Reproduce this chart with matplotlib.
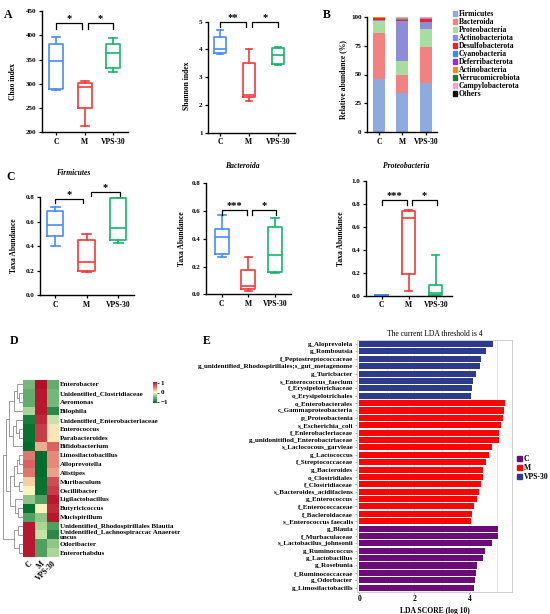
import numpy as np
import matplotlib
matplotlib.use("Agg")
import matplotlib.pyplot as plt
import matplotlib.patches as mpatches
from matplotlib.colors import LinearSegmentedColormap, Normalize

plt.rcParams["font.family"] = ["Liberation Serif", "DejaVu Serif"]
plt.rcParams["font.weight"] = "bold"
plt.rcParams["axes.labelweight"] = "bold"

W, H = 550, 614

# ---------------- data ----------------
groups = ["C", "M", "VPS-30"]
group_colors = ["#4A8CF5", "#F43A3A", "#16B46C"]

# box stats per group: min, q1, median, q3, max
chao_stats = [[287, 290, 346, 383, 397], [212, 250, 293, 302, 305], [324, 332, 363, 383, 394]]
shannon_stats = [[3.82, 3.86, 4.0, 4.44, 4.70], [2.16, 2.27, 2.36, 3.50, 4.02], [3.44, 3.48, 3.80, 4.05, 4.10]]
firm_stats = [[0.40, 0.48, 0.57, 0.69, 0.72], [0.19, 0.197, 0.27, 0.45, 0.50], [0.425, 0.45, 0.545, 0.795, 0.80]]
bact_stats = [[0.27, 0.29, 0.41, 0.47, 0.57], [0.024, 0.036, 0.06, 0.175, 0.267], [0.15, 0.163, 0.283, 0.487, 0.55]]
proteo_stats = [[0.0, 0.002, 0.005, 0.008, 0.01], [0.044, 0.19, 0.675, 0.738, 0.747], [0.005, 0.01, 0.02, 0.093, 0.355]]

phyla = ["Firmicutes", "Bacteroida", "Proteobacteria", "Actinobacteriota", "Desulfobacterota",
         "Cyanobacteria", "Deferribacterota", "Actinobacteria", "Verrucomicrobiota",
         "Campylobacterota", "Others"]
phyla_colors = ["#8FAADC", "#F28282", "#A8DCA0", "#8C8CD8", "#E8262C", "#3C8CE6",
                "#9A2BD8", "#F08C1E", "#1E7B2A", "#F2A2CC", "#111111"]
abund_C = [46, 40, 10.5, 0.5, 2.2, 0.2, 0.1, 0.1, 0.1, 0.1, 0.2]
abund_M = [33.5, 15.8, 12.7, 34.5, 1.2, 0.5, 0.4, 0.6, 0.2, 0.2, 0.4]
abund_V = [43, 31.2, 15.4, 6.3, 1.2, 0.5, 1.0, 0.6, 0.3, 0.2, 0.3]

heat_genera = ["Enterobacter", "Unidentified_Clostridiaceae", "Aeromonas", "Bilophila",
               "Unidentified_Enterobacteriaceae", "Enterococcus", "Parabacteroides",
               "Bifidobacterium", "Limosilactobacillus", "Alloprevotella", "Alistipes",
               "Muribaculum", "Oscillibacter", "Ligilactobacillus", "Butyricicoccus",
               "Mucispirillum", "Unidentified_Rhodospirillales Blautia",
               "Unidentified_Lachnospiraccac Anaerotr\nuncus", "Odoribacter", "Enterorhabdus"]
heat_C = [-0.5, -0.6, -0.6, -0.3, -1.0, -1.1, -1.1, -1.2, 0.6, 0.7, 0.6, 0.2, 0.05, -0.4,
          -1.1, -0.7, 1.1, 1.1, 1.1, 1.1]
heat_M = [1.2, 1.1, 1.1, 1.1, 1.0, 0.9, 0.9, 0.35, -1.2, -1.2, -1.2, -1.1, -1.1, -0.7,
          0.05, -0.4, -0.3, -0.2, -0.7, -0.7]
heat_V = [-0.6, -0.5, -0.5, -0.9, -0.2, 0.1, 0.1, 0.7, 0.5, 0.5, 0.4, 0.8, 0.9, 1.1,
          1.0, 1.1, -0.7, -0.9, -0.4, -0.3]
# row clustering: (node a, node b, height); new nodes numbered from 20
heat_merges = [(5, 6, 0.2), (1, 2, 0.2), (0, 21, 0.35), (22, 3, 0.5), (4, 20, 0.4),
               (24, 7, 0.6), (23, 25, 0.8), (8, 9, 0.2), (27, 10, 0.35), (11, 12, 0.25),
               (28, 29, 0.55), (14, 15, 0.3), (13, 31, 0.45), (30, 32, 0.75),
               (26, 33, 1.0), (16, 17, 0.3), (18, 19, 0.2), (35, 36, 0.5), (34, 37, 1.2)]

lda_taxa = ["g_Aloprevolela", "g_Romboutsia", "f_Peptostreptococcaceae",
            "g_unidentified_Rhodospirillales;s_gut_metagenome", "g_Turicbacter",
            "s_Enterococcus_faecium", "f_Erysipelotrichaceae", "o_Erysipelotrichales",
            "o_Enterobacterales", "c_Gammaproteobacteria", "p_Proteobactenia",
            "s_Escherichia_coli", "f_Enlerobacleriaceae", "g_unidonitifiod_Enterobactriaceae",
            "s_Laclococous_garvieae", "g_Lactococcus", "f_Streptococcaceae", "g_Bacteroides",
            "o_Clostridiales", "f_Clostridiaceae", "s_Bacteroides_acidifaciens",
            "g_Enterococcus", "f_Enterococcaceae", "f_Bacleroidaceae",
            "s_Enterococcus faecalis", "g_Blauia", "f_Murbaculaceae",
            "s_Lactobacilus_johnsonii", "g_Ruminococcus", "g_Lactobacillus", "g_Rosebunia",
            "f_Ruminococcaceae", "g_Odorbacter", "g_Limosilactobacills"]
lda_scores = [4.85, 4.60, 4.41, 4.37, 4.24, 4.12, 4.09, 4.05,
              5.30, 5.25, 5.23, 5.15, 5.07, 5.06, 4.83, 4.70, 4.61, 4.51, 4.49, 4.43,
              4.36, 4.28, 4.18, 4.11, 4.06,
              5.04, 5.04, 4.83, 4.58, 4.50, 4.29, 4.24, 4.21, 4.17]
lda_group = ["VPS-30"] * 8 + ["M"] * 17 + ["C"] * 9
lda_colors = {"C": "#6A0B78", "M": "#FA0505", "VPS-30": "#2E3A8C"}


# ---------------- helpers ----------------
def px_axes(fig, x0, y0, x1, y1):
    return fig.add_axes([x0 / W, 1 - y1 / H, (x1 - x0) / W, (y1 - y0) / H])


def fig_text(fig, x, y, s, **kw):
    fig.text(x / W, 1 - y / H, s, **kw)


def box_panel(ax, stats, width, ylim, yticks, xlim, ylabel, label_x, label_y, brackets):
    for i, s in enumerate(stats):
        d = dict(whislo=s[0], q1=s[1], med=s[2], q3=s[3], whishi=s[4])
        c = group_colors[i]
        props = dict(color=c, lw=1.2)
        ax.bxp([d], positions=[i], widths=width, showfliers=False, capwidths=width * 0.55,
               boxprops=props, whiskerprops=props, capprops=props, medianprops=props,
               manage_ticks=False)
    ax.set_xlim(*xlim)
    ax.set_ylim(*ylim)
    ax.set_yticks(yticks)
    ax.set_xticks(range(3))
    ax.set_xticklabels(groups, fontsize=5.5)
    for sp in ["top", "right"]:
        ax.spines[sp].set_visible(False)
    for sp in ["left", "bottom"]:
        ax.spines[sp].set_linewidth(1.0)
    ax.spines["left"].set_bounds(yticks[0], yticks[-1])
    ax.tick_params(length=2.5, width=0.9, labelsize=5, pad=1.5)
    ax.tick_params(axis="x", labelsize=5.5)
    ax.set_ylabel(ylabel, fontsize=5.5)
    ax.yaxis.set_label_coords(label_x, label_y)
    for x1, x2, y, drop, lab in brackets:
        ax.plot([x1, x1, x2, x2], [y - drop, y, y, y - drop], color="black", lw=0.9,
                clip_on=False)
        ax.text((x1 + x2) / 2, y, lab, ha="center", va="bottom", fontsize=7.5, clip_on=False)


fig = plt.figure(figsize=(W / 100, H / 100), dpi=100)

# ---------------- A ----------------
ax = px_axes(fig, 41.7, 11, 128.3, 132.3)
box_panel(ax, chao_stats, 0.5, (200, 450), [200, 250, 300, 350, 400, 450], (-0.51, 2.53),
          "Chao index", -0.29, 0.42,
          [(0, 0.9, 424.6, 12.4, "*"), (1.1, 2.0, 424.6, 12.4, "*")])

ax = px_axes(fig, 208, 21.7, 295, 132.7)
box_panel(ax, shannon_stats, 0.4, (1, 5), [1, 2, 3, 4, 5], (-0.41, 2.59),
          "Shannon index", -0.19, 0.42,
          [(0, 0.9, 5.0, 0.18, "**"), (1.1, 2.0, 5.0, 0.18, "*")])

# ---------------- B ----------------
ax = px_axes(fig, 367, 17, 437, 132)
abund = np.array([abund_C, abund_M, abund_V])
bottom = np.zeros(3)
for j, name in enumerate(phyla):
    ax.bar(range(3), abund[:, j], bottom=bottom, width=0.51, color=phyla_colors[j],
           label=name, linewidth=0)
    bottom += abund[:, j]
ax.set_xlim(-0.51, 2.47)
ax.set_ylim(0, 100)
ax.set_yticks([0, 25, 50, 75, 100])
ax.set_xticks(range(3))
ax.set_xticklabels(groups, fontsize=5.5)
for sp in ["top", "right"]:
    ax.spines[sp].set_visible(False)
for sp in ["left", "bottom"]:
    ax.spines[sp].set_linewidth(1.0)
ax.tick_params(length=2.5, width=0.9, labelsize=5, pad=1.5)
ax.tick_params(axis="x", labelsize=5.5)
ax.set_ylabel("Relative abundance (%)", fontsize=5.5)
ax.yaxis.set_label_coords((347 - 367) / 70, 0.46)
handles = [mpatches.Patch(color=c, label=n) for n, c in zip(phyla, phyla_colors)]
fig.legend(handles=handles, loc="upper left", bbox_to_anchor=(453 / W, 1 - 10.5 / H),
           frameon=False, fontsize=5.5, handlelength=0.55, handleheight=0.6,
           handletextpad=0.2, labelspacing=0.0, borderpad=0, borderaxespad=0)

# ---------------- C ----------------
ax = px_axes(fig, 40, 197.3, 133.9, 295)
box_panel(ax, firm_stats, 0.53, (0, 0.8), [0, 0.2, 0.4, 0.6, 0.8], (-0.48, 2.5),
          "Taxa Abundance", -0.235, 0.5,
          [(0, 0.88, 0.785, 0.035, "*"), (1.15, 2.05, 0.845, 0.035, "*")])

ax = px_axes(fig, 205.7, 183.3, 291, 294.3)
box_panel(ax, bact_stats, 0.52, (0, 0.8), [0, 0.2, 0.4, 0.6, 0.8], (-0.6, 2.6),
          "Taxa Abundance", -0.23, 0.5,
          [(0, 0.95, 0.61, 0.036, "***"), (1.12, 2.05, 0.61, 0.036, "*")])

ax = px_axes(fig, 365.7, 181, 452, 295.7)
box_panel(ax, proteo_stats, 0.49, (0, 1.0), [0, 0.2, 0.4, 0.6, 0.8, 1.0], (-0.59, 2.6),
          "Taxa Abundance", -0.24, 0.5,
          [(0, 0.94, 0.83, 0.037, "***"), (1.11, 2.05, 0.83, 0.037, "*")])

for x, y, t in [(73, 173, "Firmicutes"), (242.7, 165.7, "Bacteroida"),
                (406.7, 166, "Proteobacteria")]:
    fig_text(fig, x, y, t, ha="center", va="center", fontsize=5.5, style="italic")

# ---------------- D ----------------
heat = np.array([heat_C, heat_M, heat_V]).T
cmap = LinearSegmentedColormap.from_list(
    "gyr", [(0, "#006D2C"), (0.28, "#74B77A"), (0.5, "#FFFFC4"), (0.72, "#E8877A"),
            (1, "#B40F2A")])
norm = Normalize(vmin=-1.15, vmax=1.15)
hax = px_axes(fig, 22.7, 380, 58.3, 557)
im = hax.imshow(heat, cmap=cmap, norm=norm, aspect="auto", interpolation="nearest")
hax.set_xticks(range(3))
hax.set_xticklabels(groups, rotation=45, ha="right", rotation_mode="anchor", fontsize=5.5)
hax.set_yticks(range(len(heat_genera)))
hax.set_yticklabels(heat_genera, fontsize=5, linespacing=0.9)
hax.yaxis.tick_right()
hax.tick_params(length=0, pad=1)
hax.tick_params(axis="x", pad=2)
for sp in hax.spines.values():
    sp.set_visible(False)

dax = px_axes(fig, 2, 380, 22.7, 557)
n = len(heat_genera)
pos = {i: float(i) for i in range(n)}
hgt = {i: 0.0 for i in range(n)}
for k, (a, b, h) in enumerate(heat_merges):
    dax.plot([hgt[a], h, h, hgt[b]], [pos[a], pos[a], pos[b], pos[b]], color="#8C8C8C",
             lw=0.6)
    pos[n + k] = (pos[a] + pos[b]) / 2
    hgt[n + k] = h
dax.set_ylim(n - 0.5, -0.5)
dax.set_xlim(1.25, 0)
dax.axis("off")

cax = px_axes(fig, 153, 382, 157, 403)
cb = fig.colorbar(im, cax=cax, ticks=[-1, 0, 1])
cb.outline.set_visible(False)
cb.ax.tick_params(labelsize=5, length=1.5, width=0.5, pad=1)

# ---------------- E ----------------
eax = px_axes(fig, 356.7, 340, 512.3, 591.7)
ypos = np.arange(len(lda_taxa))
eax.barh(ypos, lda_scores, height=0.82, color=[lda_colors[g] for g in lda_group],
         zorder=3)
eax.set_ylim(len(lda_taxa) - 0.45, -0.55)
eax.set_xlim(-0.095, 5.56)
eax.set_yticks(ypos)
eax.set_yticklabels(lda_taxa, fontsize=5)
eax.set_xticks([0, 2, 4])
eax.set_xticks([1, 3, 5], minor=True)
eax.grid(axis="x", which="both", color="#E6E6E6", lw=0.6, zorder=0)
for sp in eax.spines.values():
    sp.set_color("#C8C8C8")
    sp.set_linewidth(0.6)
eax.tick_params(axis="both", length=1.5, width=0.5, color="#888888", pad=1, labelsize=5)
eax.tick_params(axis="x", which="minor", length=0)
eax.tick_params(axis="x", labelsize=5.5)
eax.set_xlabel("LDA SCORE (log 10)", fontsize=5.5, labelpad=3)
eax.set_title("The current LDA threshold is 4", fontsize=5.5, pad=3)
lda_handles = [mpatches.Patch(color=lda_colors[g], label=g) for g in groups]
fig.legend(handles=lda_handles, loc="upper left", bbox_to_anchor=(517 / W, 1 - 455 / H),
           frameon=False, fontsize=5.5, handlelength=0.6, handleheight=0.7,
           handletextpad=0.3, labelspacing=0.15, borderpad=0, borderaxespad=0)

# ---------------- panel letters ----------------
for x, y, t in [(8, 15, "A"), (327, 15, "B"), (10.7, 177, "C"), (14, 341, "D"),
                (207, 341, "E")]:
    fig_text(fig, x, y, t, ha="center", va="center", fontsize=8.5)

fig.savefig("out.png", dpi=100)
